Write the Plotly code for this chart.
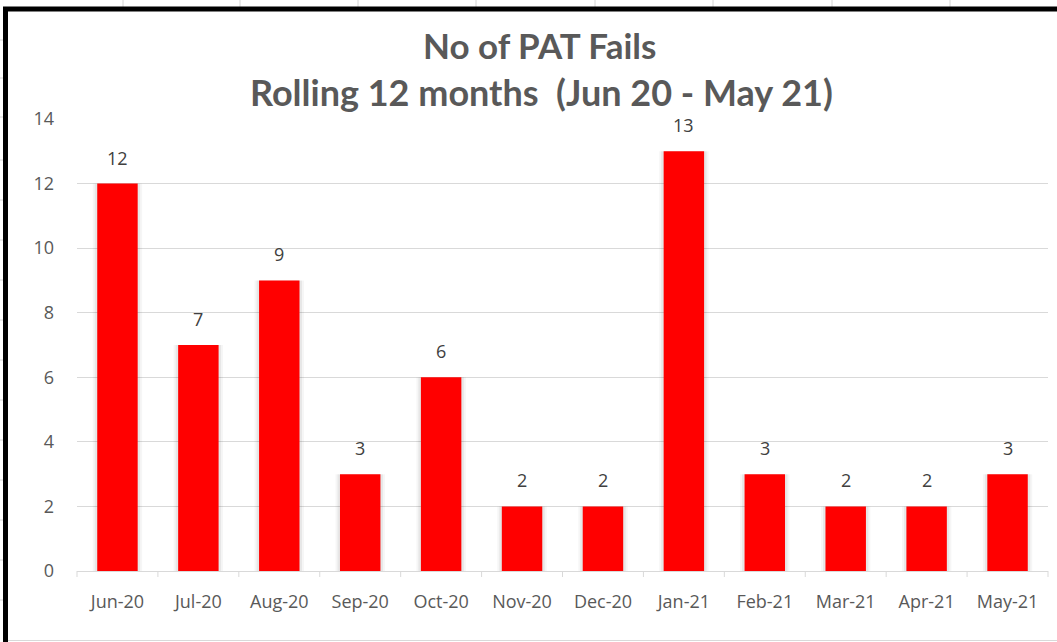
import plotly.graph_objects as go

months = ["Jun-20", "Jul-20", "Aug-20", "Sep-20", "Oct-20", "Nov-20",
          "Dec-20", "Jan-21", "Feb-21", "Mar-21", "Apr-21", "May-21"]
fails = [12, 7, 9, 3, 6, 2, 2, 13, 3, 2, 2, 3]
y_ticks = [0, 2, 4, 6, 8, 10, 12, 14]
title_lines = ["No of PAT Fails", "Rolling 12 months  (Jun 20 - May 21)"]

W, H = 1057, 642
L, R, T, B = 77, 9, 119, 71
pw, ph = W - L - R, H - T - B
FONT = "Open Sans, Lato, sans-serif"
TFONT = "Lato, Open Sans, sans-serif"
cat_px = pw / len(months)

def px(x):
    return (x - L) / pw

def py(y):
    return (H - B - y) / ph

fig = go.Figure()
# soft shadow behind bars
for extra, alpha in [(9, 0.035), (5, 0.06)]:
    fig.add_trace(go.Bar(
        x=months, y=fails, width=0.5 + extra / cat_px,
        marker=dict(color=f"rgba(0,0,0,{alpha})", line=dict(width=0)),
        hoverinfo="skip",
    ))
fig.add_trace(go.Bar(
    x=months, y=fails,
    marker=dict(color="#FF0000", line=dict(width=0)),
    hoverinfo="skip", width=0.5,
))

annotations = [
    dict(text=str(v), x=m, y=v, xref="x", yref="y", showarrow=False,
         yanchor="bottom", yshift=12,
         font=dict(family=FONT, size=18, color="#404040"))
    for m, v in zip(months, fails)
]
annotations += [
    dict(text="<b>" + title_lines[0] + "</b>", xref="paper", yref="paper",
         x=px(539), y=py(45), xanchor="center", yanchor="middle", showarrow=False,
         font=dict(family=TFONT, size=35, color="#595959")),
    dict(text="<b>" + title_lines[1] + "</b>", xref="paper", yref="paper",
         x=px(541), y=py(92), xanchor="center", yanchor="middle", showarrow=False,
         font=dict(family=TFONT, size=36, color="#595959")),
]

shapes = []
# spreadsheet gridlines outside the chart frame
for gx in [123, 240, 358, 476, 595, 713, 832, 950]:
    shapes.append(dict(type="line", xref="paper", yref="paper",
                       x0=px(gx), x1=px(gx), y0=py(0), y1=py(8),
                       line=dict(color="#D4D4D4", width=1), layer="above"))
for gy in [40, 78, 117, 160, 200, 240, 280, 320, 360, 400, 440, 480, 520, 560, 600]:
    shapes.append(dict(type="line", xref="paper", yref="paper",
                       x0=px(0), x1=px(3), y0=py(gy), y1=py(gy),
                       line=dict(color="#D4D4D4", width=1), layer="above"))
# frame
shapes.append(dict(type="line", xref="paper", yref="paper",
                   x0=px(5.5), x1=px(5.5), y0=py(7), y1=py(642),
                   line=dict(color="#000000", width=5), layer="above"))
shapes.append(dict(type="line", xref="paper", yref="paper",
                   x0=px(3), x1=px(1057), y0=py(9), y1=py(9),
                   line=dict(color="#000000", width=5), layer="above"))
shapes.append(dict(type="line", xref="paper", yref="paper",
                   x0=px(8), x1=px(1057), y0=py(640.5), y1=py(640.5),
                   line=dict(color="#D9D9D9", width=1), layer="above"))
# x-axis tick marks (category boundaries)
n = len(months)
for i in range(n + 1):
    shapes.append(dict(type="line", xref="paper", yref="paper",
                       x0=i / n, x1=i / n, y0=0, y1=py(577),
                       line=dict(color="#D9D9D9", width=1)))

fig.update_layout(
    width=W, height=H,
    margin=dict(l=L, r=R, t=T, b=B, pad=0),
    paper_bgcolor="white", plot_bgcolor="white",
    showlegend=False,
    barmode="overlay",
    shapes=shapes,
    annotations=annotations,
    xaxis=dict(
        showgrid=False, showline=True, linecolor="#D9D9D9", linewidth=1,
        ticks="", tickfont=dict(family=FONT, size=18, color="#595959"),
        ticklabelstandoff=14, fixedrange=True,
    ),
    yaxis=dict(
        range=[0, 14], tickvals=y_ticks, showgrid=True, gridcolor="#D9D9D9", gridwidth=1,
        zeroline=False, showline=False, ticks="",
        tickfont=dict(family=FONT, size=18, color="#595959"),
        ticklabelstandoff=22, fixedrange=True,
    ),
)

fig.write_html("out.html", config={"displayModeBar": False},
               post_script="document.body.style.margin='0';document.body.style.overflow='hidden';")
